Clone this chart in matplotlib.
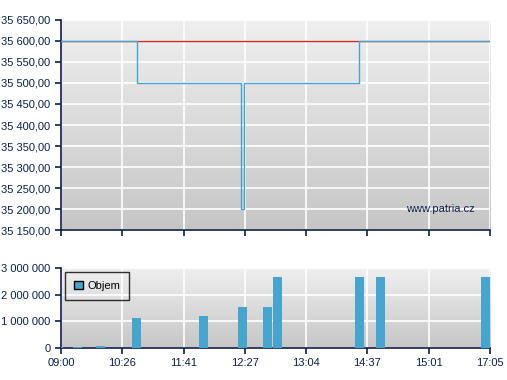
import numpy as np
import matplotlib.pyplot as plt
import matplotlib.colors as mcolors

plt.rcParams['font.family'] = ['Liberation Sans', 'DejaVu Sans']

# x axis: evenly spaced session ticks (index positions, not true time)
tick_labels = ['09:00', '10:26', '11:41', '12:27', '13:04', '14:37', '15:01', '17:05']

# price (step line) - positions in tick-interval units
price_x = [0, 1.24, 2.935, 2.98, 4.86, 7]
price_y = [35600, 35500, 35200, 35500, 35600, 35600]
ref_price = 35600

# volume bars
vol_x = [-0.035, 0.27, 0.64, 1.23, 2.32, 2.96, 3.37, 3.53, 4.87, 5.21, 6.93]
vol_y = [40000, 45000, 85000, 1140000, 1210000, 1540000, 1540000, 2660000,
         2660000, 2660000, 2660000]

navy = '#0a1f4a'
blue = '#47a5cd'
red = '#d02a22'

price_ticks = np.arange(35150, 35651, 50)
vol_ticks = [0, 1000000, 2000000, 3000000]


def fmt_price(v):
    s = f"{v:,.2f}"
    return s.replace(',', ' ').replace('.', ',')


def fmt_vol(v):
    return f"{int(v):,}".replace(',', ' ')


def gradient(ax, ylo, yhi):
    cmap = mcolors.LinearSegmentedColormap.from_list('g', ['#c6c6c6', '#efefef'])
    grad = np.linspace(0, 1, 256).reshape(-1, 1)
    ax.imshow(grad, extent=[0, 7, ylo, yhi], origin='lower', aspect='auto',
              cmap=cmap, zorder=0)


def style(ax):
    for s in ['top', 'right']:
        ax.spines[s].set_visible(False)
    for s in ['left', 'bottom']:
        ax.spines[s].set_color(navy)
        ax.spines[s].set_linewidth(1.2)
    ax.tick_params(colors=navy, labelcolor=navy, labelsize=8, length=4, width=1.2)
    ax.set_axisbelow(True)
    ax.grid(True, color='white', linewidth=1.2)


fig = plt.figure(figsize=(5.07, 3.8), dpi=100)
ax1 = fig.add_axes([0.1203, 0.3947, 0.8462, 0.5527])
ax2 = fig.add_axes([0.1203, 0.0842, 0.8462, 0.2105])

# price panel
gradient(ax1, 35150, 35650)
ax1.axhline(ref_price, color=red, linewidth=1.0, zorder=2)
ax1.step(price_x, price_y, where='post', color=blue, linewidth=1.0, zorder=3)
ax1.set_xlim(0, 7)
ax1.set_ylim(35150, 35650)
ax1.set_xticks(range(8))
ax1.set_xticklabels([])
ax1.set_yticks(price_ticks)
ax1.set_yticklabels([fmt_price(v) for v in price_ticks])
style(ax1)
ax1.text(0.965, 0.1, 'www.patria.cz', transform=ax1.transAxes, ha='right',
         va='center', color=navy, fontsize=8, zorder=4)

# volume panel
gradient(ax2, 0, 3000000)
ax2.bar(vol_x, vol_y, width=0.147, color=blue, zorder=3, label='Objem')
ax2.set_xlim(0, 7)
ax2.set_ylim(0, 3000000)
ax2.set_xticks(range(8))
ax2.set_xticklabels(tick_labels)
ax2.set_yticks(vol_ticks)
ax2.set_yticklabels([fmt_vol(v) for v in vol_ticks])
style(ax2)
leg = ax2.legend(loc='upper left', bbox_to_anchor=(0.009, 0.95), borderaxespad=0,
                 frameon=True, fancybox=False, fontsize=8, handlelength=0.8,
                 handleheight=0.8, handletextpad=0.4, borderpad=0.8)
leg.get_frame().set_edgecolor('black')
leg.get_frame().set_facecolor('none')
leg.get_frame().set_linewidth(1)
for h in leg.legend_handles:
    h.set_edgecolor('black')
    h.set_linewidth(1)
for t in leg.get_texts():
    t.set_color('black')

fig.savefig('out.png', dpi=100)
